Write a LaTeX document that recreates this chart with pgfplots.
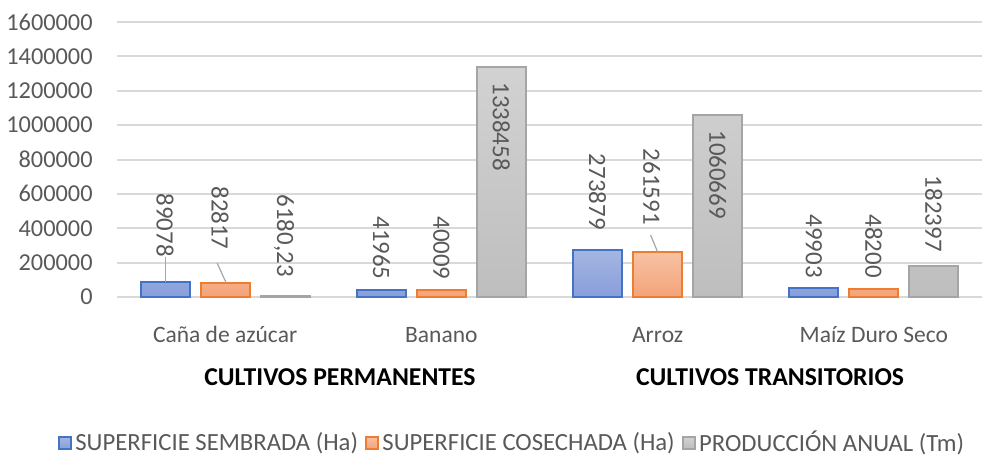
\documentclass[border=0pt]{standalone}
\usepackage{fontspec}
\setmainfont{Carlito}
\usepackage{pgfplots}
\pgfplotsset{compat=1.18}
\definecolor{tickgray}{HTML}{595959}
\definecolor{gridgray}{HTML}{D9D9D9}
\definecolor{blueE}{HTML}{4472C4}
\definecolor{blueT}{HTML}{A4B6E2}
\definecolor{blueB}{HTML}{879EDA}
\definecolor{orangeE}{HTML}{ED7D31}
\definecolor{orangeT}{HTML}{F7C2A4}
\definecolor{orangeB}{HTML}{F4A379}
\definecolor{grayE}{HTML}{A5A5A5}
\definecolor{grayT}{HTML}{D2D2D2}
\definecolor{grayB}{HTML}{BEBEBE}
\definecolor{leadergray}{HTML}{A6A6A6}
\tikzset{lbl/.style={rotate=-90, anchor=east, inner sep=0pt, font=\fontsize{12.5}{15}\selectfont, text=tickgray},
         lblin/.style={lbl, anchor=west}}
\begin{document}
\begin{tikzpicture}
\path[use as bounding box] (-58.5bp,-81bp) rectangle (432.5bp,148.5bp);
\begin{axis}[
  at={(0,0)}, anchor=south west,
  scale only axis, width=432.5bp, height=137.5bp,
  clip=false,
  xmin=-0.5, xmax=3.5, ymin=0, ymax=1600000,
  ytick={0,200000,400000,600000,800000,1000000,1200000,1400000,1600000},
  scaled y ticks=false,
  /pgf/number format/1000 sep={},
  /pgf/number format/fixed,
  /pgf/number format/assume math mode=true,
  xtick={0,1,2,3},
  xticklabels={Caña de azúcar, Banano, Arroz, Maíz Duro Seco},
  axis line style={draw=none},
  tick style={draw=none},
  ymajorgrids,
  grid style={draw=gridgray, line width=1bp},
  yticklabel style={font=\fontsize{12.2}{14}\selectfont, text=tickgray, inner xsep=0pt, xshift=-12bp},
  xticklabel style={font=\fontsize{11.8}{14}\selectfont, text=tickgray, anchor=base, inner sep=0pt, yshift=-18.5bp},
  ybar, bar width=24.5bp,
  legend columns=3,
  legend style={at={(0.4555,-0.531)}, anchor=center, draw=none, fill=none,
    inner sep=0pt, nodes={inner sep=0pt},
    font=\fontsize{12.4}{14}\selectfont, text=tickgray,
    /tikz/every odd column/.append style={column sep=1.5bp},
    /tikz/every even column/.append style={column sep=3.5bp}},
  legend image code/.code={\draw[#1] (0bp,-3bp) rectangle (6.2bp,3.2bp);},
]
\addplot[ybar, bar shift=-30bp, draw=blueE, line width=1bp, top color=blueT, bottom color=blueB]
  coordinates {(0,89078) (1,41965) (2,273879) (3,49903)};
\addlegendentry{SUPERFICIE SEMBRADA (Ha)}
\addplot[ybar, bar shift=0bp, draw=orangeE, line width=1bp, top color=orangeT, bottom color=orangeB]
  coordinates {(0,82817) (1,40009) (2,261591) (3,48200)};
\addlegendentry{SUPERFICIE COSECHADA (Ha)}
\addplot[ybar, bar shift=30bp, draw=grayE, line width=1bp, top color=grayT, bottom color=grayB]
  coordinates {(0,6180.23) (1,1338458) (2,1060669) (3,182397)};
\addlegendentry{PRODUCCIÓN ANUAL (Tm)}

% data labels (anchored at their lower end, except those inside bars)
\node[lbl] at ([xshift=-30bp]axis cs:0,232700) {89078};
\node[lbl] at ([xshift=-2.5bp]axis cs:0,273500) {82817};
\node[lbl] at ([xshift=29.5bp]axis cs:0,116400) {6180,23};
\node[lbl] at ([xshift=-30bp]axis cs:1,98900) {41965};
\node[lbl] at ([xshift=0bp]axis cs:1,98900) {40009};
\node[lblin] at ([xshift=30bp]axis cs:1,1250900) {1338458};
\node[lbl] at ([xshift=-30bp]axis cs:2,389800) {273879};
\node[lbl] at ([xshift=-3bp]axis cs:2,418900) {261591};
\node[lblin] at ([xshift=30bp]axis cs:2,971600) {1060669};
\node[lbl] at ([xshift=-30bp]axis cs:3,110500) {49903};
\node[lbl] at ([xshift=0bp]axis cs:3,110500) {48200};
\node[lbl] at ([xshift=30bp]axis cs:3,261800) {182397};

% leader lines
\draw[leadergray, line width=0.6bp] ([xshift=-30bp]axis cs:0,232700) -- ([xshift=-30bp]axis cs:0,89078);
\draw[leadergray, line width=0.6bp] ([xshift=-4bp]axis cs:0,197800) -- ([xshift=0.5bp]axis cs:0,82817);
\draw[leadergray, line width=0.6bp] ([xshift=-3.5bp]axis cs:2,360700) -- (axis cs:2,261591);

% group labels
\node[font=\bfseries\fontsize{12.9}{15}\selectfont, anchor=center, yshift=-40bp] at (axis cs:0.531,0) {CULTIVOS PERMANENTES};
\node[font=\bfseries\fontsize{12.9}{15}\selectfont, anchor=center, yshift=-40bp] at (axis cs:2.52,0) {CULTIVOS TRANSITORIOS};
\end{axis}
\end{tikzpicture}
\end{document}
